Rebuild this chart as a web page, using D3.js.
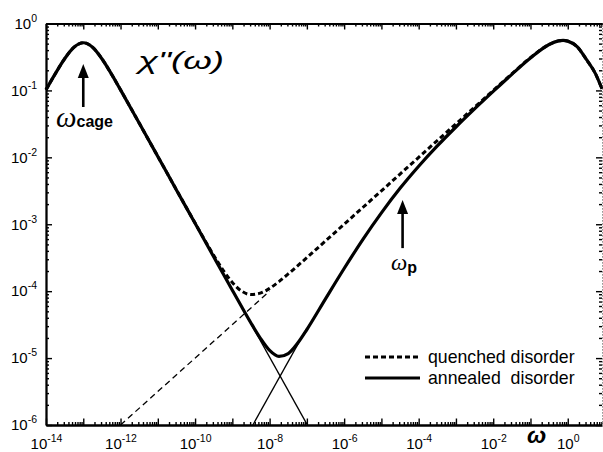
<!DOCTYPE html>
<html>
<head>
<meta charset="utf-8">
<script src="https://cdn.jsdelivr.net/npm/d3@7"></script>
<style>
  html, body { margin: 0; padding: 0; background: #fff; }
  svg { display: block; }
  text { font-family: "Liberation Sans", Arial, sans-serif; fill: #000; }
</style>
</head>
<body>
<svg id="chart" width="603" height="452"></svg>
<script>
// Frequency grid (ω) and the susceptibility loss χ''(ω) for both disorder types
const omega = [1e-14, 1.78e-14, 3.16e-14, 5.62e-14, 1e-13, 1.78e-13, 3.16e-13, 5.62e-13,
  1e-12, 3.16e-12, 1e-11, 3.16e-11, 1e-10, 3.16e-10, 5.62e-10, 1e-9, 1.78e-9, 3.16e-9,
  5.62e-9, 1e-8, 1.78e-8, 3.16e-8, 5.62e-8, 1e-7, 3.16e-7, 1e-6, 3.16e-6, 1e-5, 3.16e-5,
  1e-4, 3.16e-4, 1e-3, 3.16e-3, 1e-2, 3.16e-2, 0.1, 0.316, 0.562, 0.75, 1, 1.78, 3.16, 5.62, 8.3];

const chiQuenched = [0.102, 0.178, 0.297, 0.441, 0.516, 0.441, 0.297, 0.178,
  0.102, 0.0326, 0.01032, 3.27e-3, 1.042e-3, 3.44e-4, 2.07e-4, 1.35e-4, 1.0e-4, 8.89e-5,
  9.33e-5, 1.10e-4, 1.39e-4, 1.81e-4, 2.39e-4, 3.17e-4, 5.63e-4, 1.0e-3, 1.78e-3, 3.16e-3, 5.62e-3,
  1.0e-2, 1.78e-2, 3.16e-2, 5.62e-2, 0.0999, 0.177, 0.309, 0.485, 0.55, 0.56, 0.545, 0.45, 0.29, 0.175, 0.105];

const chiAnnealed = [0.102, 0.178, 0.297, 0.441, 0.516, 0.441, 0.297, 0.178,
  0.102, 0.0326, 0.01032, 3.26e-3, 1.032e-3, 3.265e-4, 1.837e-4, 1.035e-4, 5.85e-5, 3.35e-5,
  1.99e-5, 1.30e-5, 1.06e-5, 1.17e-5, 1.66e-5, 2.67e-5, 7.67e-5, 2.18e-4, 5.90e-4, 1.48e-3, 3.44e-3,
  7.36e-3, 1.48e-2, 2.84e-2, 5.29e-2, 0.0965, 0.174, 0.305, 0.485, 0.55, 0.56, 0.545, 0.45, 0.29, 0.175, 0.105];

// Asymptotes: ω^0.5 law (quenched), cage-peak tail and ω^1 rise (annealed)
const powerLawOmega = [1e-12, 1e-8];
const powerLawChi = [1e-6, 1e-4];
const cageTailOmega = [1e-9, 1e-7];
const cageTailChi = [1.03e-4, 1.03e-6];
const linearRiseOmega = [3.55e-9, 1e-7];
const linearRiseChi = [1e-6, 2.8e-5];

// Axis decades and labelled exponents
const xLabelExps = [-14, -12, -10, -8, -6, -4, -2, 0];
const yLabelExps = [0, -1, -2, -3, -4, -5, -6];
const legendLabels = ["quenched disorder", "annealed  disorder"];

const svg = d3.select("#chart");
const plotLeft = 46, plotRight = 602, plotTop = 23.5, plotBottom = 425;

const x = d3.scaleLog().domain([1e-14, 8.3]).range([plotLeft, plotRight]);
const y = d3.scaleLog().domain([1e-6, 1]).range([plotBottom, plotTop]);

// tick values: majors per decade, minors 2..9
function decades(lo, hi) { return d3.range(lo, hi + 1).map(e => Math.pow(10, e)); }
function minors(lo, hi, dom) {
  const out = [];
  for (let e = lo; e <= hi; e++) for (let k = 2; k <= 9; k++) {
    const v = k * Math.pow(10, e);
    if (v >= dom[0] && v <= dom[1]) out.push(v);
  }
  return out;
}
const xMajor = decades(-14, 0);
const xMinor = minors(-14, 0, x.domain());
const yMajor = decades(-6, 0);
const yMinor = minors(-6, -1, y.domain());

function supLabel(sel) {
  sel.each(function(d) {
    const t = d3.select(this);
    const e = Math.round(Math.log10(d));
    t.text(null);
    t.append("tspan").text("10");
    t.append("tspan").attr("dy", "-7").attr("font-size", "10.5px").text(String(e));
  });
}

function styleAxis(g, dash) {
  g.selectAll(".tick line").attr("stroke", "#000").attr("stroke-width", 1.4);
  g.select(".domain").attr("stroke", dash ? "#9a9a9a" : "#000")
    .attr("stroke-width", dash ? 1 : 1.8)
    .attr("stroke-dasharray", dash ? "1.5,1.5" : null);
  g.selectAll("text").attr("font-size", "15px").attr("fill", "#000")
    .attr("font-family", "'Liberation Sans', Arial, sans-serif");
}

// bottom axis
const gb = svg.append("g").attr("transform", `translate(0,${plotBottom})`);
gb.append("g").call(d3.axisBottom(x).tickValues(xMinor).tickSizeInner(-3).tickSizeOuter(0).tickFormat(""))
  .call(g => styleAxis(g, false));
gb.append("g").call(d3.axisBottom(x).tickValues(xMajor).tickSizeInner(-6.5).tickSizeOuter(0).tickPadding(13)
  .tickFormat(d => xLabelExps.includes(Math.round(Math.log10(d))) ? "1" : ""))
  .call(g => styleAxis(g, false))
  .call(g => g.selectAll("text").filter(function() { return this.textContent !== ""; }).call(supLabel));

// top axis
const gt = svg.append("g").attr("transform", `translate(0,${plotTop})`);
gt.append("g").call(d3.axisTop(x).tickValues(xMinor).tickSizeInner(-3).tickSizeOuter(0).tickFormat(""))
  .call(g => styleAxis(g, false));
gt.append("g").call(d3.axisTop(x).tickValues(xMajor).tickSizeInner(-6).tickSizeOuter(0).tickFormat(""))
  .call(g => styleAxis(g, false));

// left axis
const gl = svg.append("g").attr("transform", `translate(${plotLeft},0)`);
gl.append("g").call(d3.axisLeft(y).tickValues(yMinor).tickSizeInner(-3).tickSizeOuter(0).tickFormat(""))
  .call(g => styleAxis(g, false));
gl.append("g").call(d3.axisLeft(y).tickValues(yMajor).tickSizeInner(-6).tickSizeOuter(0).tickPadding(9)
  .tickFormat(d => yLabelExps.includes(Math.round(Math.log10(d))) ? "1" : ""))
  .call(g => styleAxis(g, false))
  .call(g => g.selectAll("text").call(supLabel));

// right axis
const gr = svg.append("g").attr("transform", `translate(${plotRight},0)`);
gr.append("g").call(d3.axisRight(y).tickValues(yMinor).tickSizeInner(-3).tickSizeOuter(0).tickFormat(""))
  .call(g => styleAxis(g, true));
gr.append("g").call(d3.axisRight(y).tickValues(yMajor).tickSizeInner(-6).tickSizeOuter(0).tickFormat(""))
  .call(g => styleAxis(g, true));

// curves
const line = d3.line().x(d => x(d[0])).y(d => y(d[1]));
const smooth = d3.line().x(d => x(d[0])).y(d => y(d[1])).curve(d3.curveMonotoneX);
const zip = (a, b) => a.map((v, i) => [v, b[i]]);

const plot = svg.append("g");
plot.append("path").datum(zip(powerLawOmega, powerLawChi)).attr("d", line)
  .attr("fill", "none").attr("stroke", "#000").attr("stroke-width", 1.3).attr("stroke-dasharray", "6,4");
plot.append("path").datum(zip(cageTailOmega, cageTailChi)).attr("d", line)
  .attr("fill", "none").attr("stroke", "#000").attr("stroke-width", 1.3);
plot.append("path").datum(zip(linearRiseOmega, linearRiseChi)).attr("d", line)
  .attr("fill", "none").attr("stroke", "#000").attr("stroke-width", 1.3);

plot.append("path").datum(zip(omega, chiAnnealed)).attr("d", smooth)
  .attr("fill", "none").attr("stroke", "#000").attr("stroke-width", 3.2).attr("stroke-linejoin", "round");
plot.append("path").datum(zip(omega, chiQuenched)).attr("d", smooth)
  .attr("fill", "none").attr("stroke", "#000").attr("stroke-width", 3).attr("stroke-dasharray", "5,3");

// annotation arrows
function arrow(xv, yTip, yTail) {
  const px = x(xv), pt = y(yTip), pb = y(yTail);
  svg.append("line").attr("x1", px).attr("x2", px).attr("y1", pt + 10).attr("y2", pb)
    .attr("stroke", "#000").attr("stroke-width", 2.6);
  svg.append("path").attr("d", `M${px},${pt} L${px - 5.5},${pt + 14} L${px + 5.5},${pt + 14} Z`)
    .attr("fill", "#000");
}
arrow(1e-13, 0.248, 0.0565);
arrow(3.7e-5, 2.3e-3, 4.4e-4);

// text annotations
svg.append("text").attr("x", 138).attr("y", 69).attr("font-size", "24px").attr("font-style", "italic")
  .attr("textLength", 86).attr("lengthAdjust", "spacingAndGlyphs")
  .text("χ\"(ω)");

const tc = svg.append("text").attr("x", 56).attr("y", 127);
tc.append("tspan").attr("font-family", "'Liberation Serif', serif").attr("font-style", "italic")
  .attr("font-size", "29px").text("ω");
tc.append("tspan").attr("font-weight", "bold").attr("font-size", "16px").text("cage");

const tp = svg.append("text").attr("x", 391).attr("y", 270);
tp.append("tspan").attr("font-family", "'Liberation Serif', serif").attr("font-style", "italic")
  .attr("font-size", "23px").text("ω");
tp.append("tspan").attr("font-weight", "bold").attr("font-size", "16px").attr("dy", "3").text("p");

svg.append("text").attr("x", 527).attr("y", 443).attr("font-family", "'Liberation Serif', serif")
  .attr("font-style", "italic").attr("font-weight", "bold").attr("font-size", "23px").text("ω");

// legend
const lg = svg.append("g");
lg.append("line").attr("x1", 365).attr("x2", 420).attr("y1", 357).attr("y2", 357)
  .attr("stroke", "#000").attr("stroke-width", 3).attr("stroke-dasharray", "5,3");
lg.append("line").attr("x1", 365).attr("x2", 420).attr("y1", 378).attr("y2", 378)
  .attr("stroke", "#000").attr("stroke-width", 3.2);
lg.selectAll("text.lbl").data(legendLabels).join("text").attr("class", "lbl")
  .attr("x", 428).attr("y", (d, i) => 363 + i * 21).attr("font-size", "17.7px")
  .style("white-space", "pre").text(d => d);
</script>
</body>
</html>
